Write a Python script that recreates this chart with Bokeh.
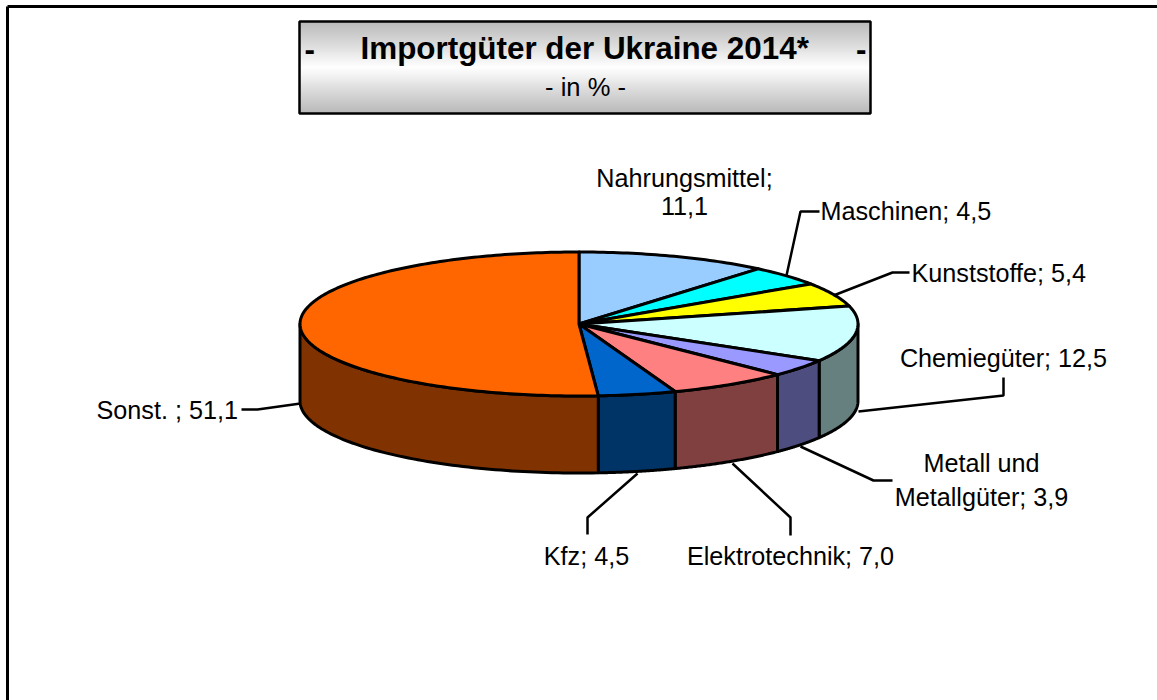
import numpy as np
from bokeh.plotting import figure
from bokeh.embed import file_html
from bokeh.resources import INLINE
from bokeh.core.properties import value

categories = ["Nahrungsmittel", "Maschinen", "Kunststoffe", "Chemiegüter", "Metall und Metallgüter", "Elektrotechnik", "Kfz", "Sonst."]
shares = [11.1, 4.5, 5.4, 12.5, 3.9, 7.0, 4.5, 51.1]
top_colors = ["#99CCFF", "#00FFFF", "#FFFF00", "#CCFFFF", "#9999FF", "#FF8080", "#0066CC", "#FF6600"]
side_colors = ["#4D6680", "#008080", "#808000", "#668080", "#4D4D80", "#804040", "#003366", "#803300"]

CX, CY, RX, RY, DEPTH = 578.5, 323.5, 279, 72, 77

p = figure(width=1157, height=700, x_range=(0, 1157), y_range=(700, 0), min_border=0,
           toolbar_location=None, output_backend="svg", outline_line_color=None,
           x_axis_type=None, y_axis_type=None)
p.grid.visible = False
p.background_fill_color = "white"
p.border_fill_color = "white"

# chart frame
p.line([7, 7], [700, 6], line_color="black", line_width=3)
p.line([7, 1157], [6, 6], line_color="black", line_width=3)

# title box with gradient
bx0, bx1, by0, by1 = 299, 870, 21, 113
ys = np.arange(by0, by1)
t = np.abs((ys + 0.5 - (by0 + by1) / 2) / ((by1 - by0) / 2))
levels = 255 - 95 * t
p.quad(left=bx0, right=bx1, top=ys, bottom=ys + 1,
       fill_color=[f"#{int(l):02x}{int(l):02x}{int(l):02x}" for l in levels], line_color=None)
p.quad(left=[bx0], right=[bx1], top=[by0], bottom=[by1], fill_color=None, line_color="black", line_width=2.5)

def font(size, style="normal"):
    return dict(text_font=value("Liberation Sans"), text_font_size=f"{size}px", text_font_style=style, text_color="black")

p.text([360], [48], text=["Importgüter der Ukraine 2014*"], text_align="left", text_baseline="middle", **font(31.4, "bold"))
p.text([304], [48], text=["-"], text_align="left", text_baseline="middle", **font(31.4, "bold"))
p.text([866], [48], text=["-"], text_align="right", text_baseline="middle", **font(31.4, "bold"))
p.text([585], [86], text=["- in % -"], text_align="center", text_baseline="middle", **font(25.5))

# pie
edges = np.concatenate([[0], np.cumsum(shares)]) / 100 * 2 * np.pi

def ell(a, dy=0):
    return CX + RX * np.sin(a), CY - RY * np.cos(a) + dy

# sides (only the lower half of the rim is visible)
for i in range(len(shares)):
    a0, a1 = max(edges[i], np.pi / 2), min(edges[i + 1], 3 * np.pi / 2)
    if a1 <= a0:
        continue
    a = np.linspace(a0, a1, 80)
    x, y = ell(a)
    xb, yb = ell(a[::-1], DEPTH)
    p.patch(np.r_[x, xb], np.r_[y, yb], fill_color=side_colors[i], line_color="black", line_width=3, line_join="round")

# top faces
for i in range(len(shares)):
    a = np.linspace(edges[i], edges[i + 1], max(int((edges[i + 1] - edges[i]) * 60), 12))
    x, y = ell(a)
    p.patch(np.r_[CX, x], np.r_[CY, y], fill_color=top_colors[i], line_color="black", line_width=3, line_join="round")

# leader lines
leaders = [
    ([786, 800, 819], [275, 211, 211]),
    ([833, 892, 909], [295, 272, 272]),
    ([858, 1003, 1003], [411, 395, 377]),
    ([800, 873, 892], [446, 480, 480]),
    ([732, 790, 790], [463, 517, 535]),
    ([637, 587, 587], [473, 517, 534]),
    ([300, 257, 241], [403, 409, 409]),
]
for lx, ly in leaders:
    p.line(lx, ly, line_color="black", line_width=2.5)

labels = [
    (684, 177, "Nahrungsmittel;", "center"),
    (684, 205, "11,1", "center"),
    (820, 210, "Maschinen; 4,5", "left"),
    (911, 272, "Kunststoffe; 5,4", "left"),
    (1003, 357, "Chemiegüter; 12,5", "center"),
    (981, 462, "Metall und", "center"),
    (981, 496, "Metallgüter; 3,9", "center"),
    (790, 555, "Elektrotechnik; 7,0", "center"),
    (586, 555, "Kfz; 4,5", "center"),
    (96, 409, "Sonst. ; 51,1", "left"),
]
for x, y, s, al in labels:
    p.text([x], [y], text=[s], text_align=al, text_baseline="middle", **font(25.2))

open("out.html", "w").write(file_html(p, INLINE))
